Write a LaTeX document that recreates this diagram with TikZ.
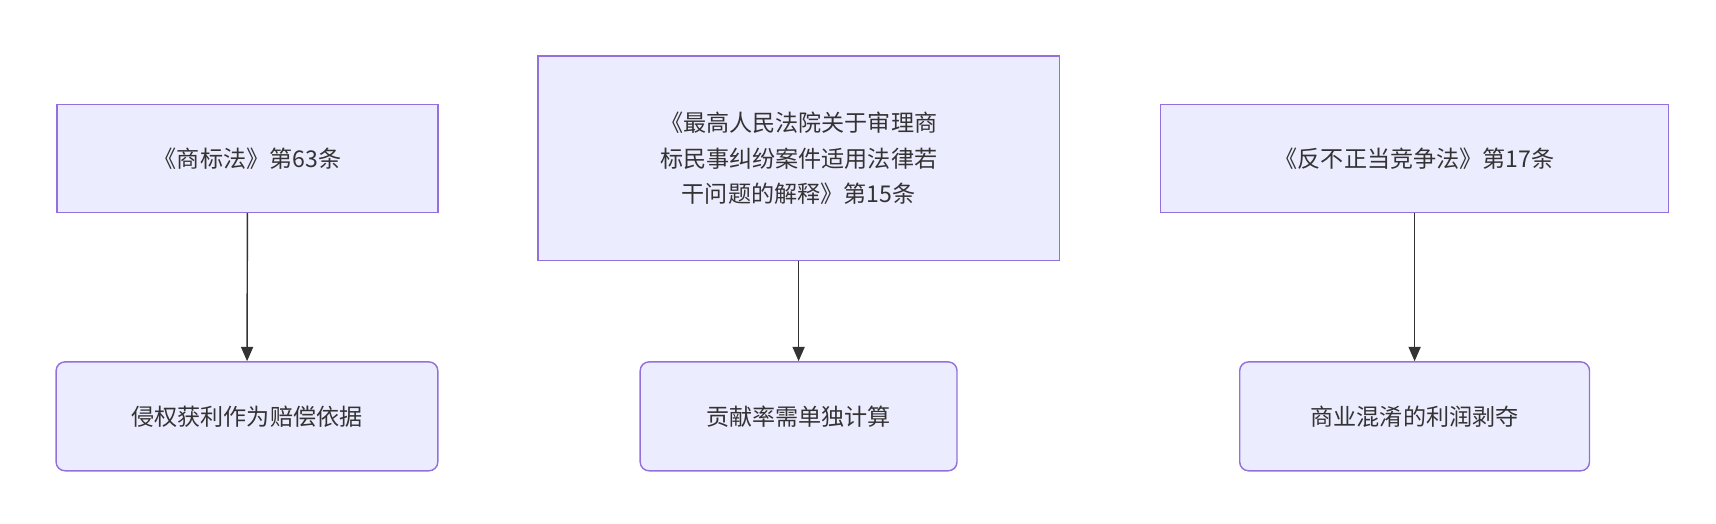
\documentclass[tikz,border=0pt]{standalone}
\usepackage{fontspec}
\setmainfont{Noto Sans CJK SC}
\usetikzlibrary{arrows.meta}
\definecolor{fillc}{HTML}{ECECFF}
\definecolor{strokec}{HTML}{9370DB}
\definecolor{linec}{HTML}{333333}
\begin{document}
\begin{tikzpicture}[x=1pt,y=1pt,
  box/.style={draw=strokec,fill=fillc,line width=1.3pt,inner sep=0pt,text=linec,font=\fontsize{21}{32}\selectfont,align=center},
  rbox/.style={box,rounded corners=8pt},
  arr/.style={draw=linec,line width=1.3pt,-{Triangle[length=13pt,width=11pt]}}]
\useasboundingbox (0,0) rectangle (1560,476);
\node[box,minimum width=346pt,minimum height=98pt] (a) at (225,332) {《商标法》第63条};
\node[rbox,minimum width=347pt,minimum height=99pt] (a2) at (224.5,97.5) {侵权获利作为赔偿依据};
\node[box,minimum width=474pt,minimum height=186pt] (b) at (726,332) {《最高人民法院关于审理商\\标民事纠纷案件适用法律若\\干问题的解释》第15条};
\node[rbox,minimum width=288pt,minimum height=99pt] (b2) at (726,97.5) {贡献率需单独计算};
\node[box,minimum width=462pt,minimum height=98pt] (c) at (1286,332) {《反不正当竞争法》第17条};
\node[rbox,minimum width=318pt,minimum height=99pt] (c2) at (1286,97.5) {商业混淆的利润剥夺};
\draw[arr] (a) -- (a2);
\draw[arr] (b) -- (b2);
\draw[arr] (c) -- (c2);
\end{tikzpicture}
\end{document}
